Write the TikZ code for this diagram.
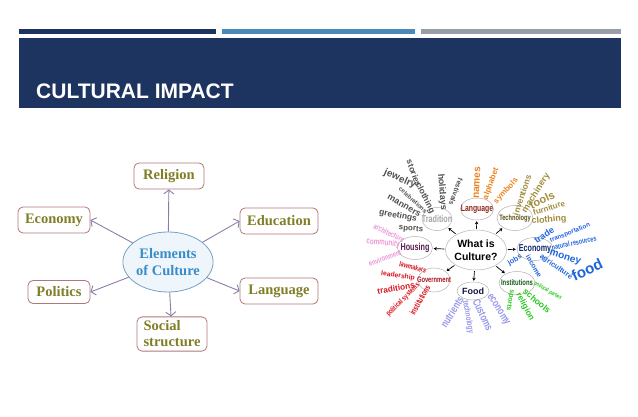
\documentclass[tikz,border=0pt]{standalone}
\usepackage{fontspec}
\setmainfont{Liberation Serif}
\newfontfamily\titlefont{Liberation Sans}
\newfontfamily\wordfont{Liberation Sans}
\newfontfamily\narrowfont[FakeStretch=0.72]{Liberation Sans}
\usetikzlibrary{shapes.geometric,arrows.meta}

\definecolor{navy}{RGB}{30,52,96}
\definecolor{barblue}{RGB}{74,138,184}
\definecolor{bargray}{RGB}{152,158,166}
\definecolor{olivetext}{RGB}{128,126,38}
\definecolor{roseline}{RGB}{176,120,120}
\definecolor{elemblue}{RGB}{58,140,200}
\definecolor{elemline}{RGB}{120,160,195}
\definecolor{elemfill}{RGB}{238,246,252}
\definecolor{lilac}{RGB}{140,124,170}
\definecolor{tradc}{RGB}{80,80,80}
\definecolor{langc}{RGB}{235,130,30}
\definecolor{techc}{RGB}{160,140,60}
\definecolor{econc}{RGB}{30,100,220}
\definecolor{instc}{RGB}{40,200,30}
\definecolor{foodc}{RGB}{150,150,235}
\definecolor{govc}{RGB}{215,20,30}
\definecolor{housc}{RGB}{235,150,215}

\tikzset{
  elembox/.style={draw=roseline, rounded corners=5pt, fill=white, line width=0.8pt,
    font=\fontsize{14.5}{16}\selectfont\bfseries, text=olivetext,
    minimum height=26pt, inner xsep=4pt},
  elemarrow/.style={draw=lilac, line width=0.9pt, -{Straight Barb[length=4pt,width=10pt]}},
  ring/.style={ellipse, draw=gray!60, fill=white, line width=0.5pt, inner sep=0pt},
  ringarrow/.style={-{Stealth[length=3pt,width=3.5pt]}, line width=0.7pt, shorten <=1pt, shorten >=1pt},
  word/.style={inner sep=0pt, font=\wordfont\bfseries\fontsize{#1}{#1}\selectfont},
  nword/.style={inner sep=0pt, font=\narrowfont\bfseries\fontsize{#1}{#1}\selectfont},
}

\begin{document}
\begin{tikzpicture}[x=1pt,y=-1pt]
\useasboundingbox (0,0) rectangle (638,417);
\fill[navy] (19,29) rectangle (216,34);
\fill[barblue] (222,29) rectangle (415,34);
\fill[bargray] (421,29) rectangle (621,34);
\fill[navy] (19,38) rectangle (621,108);
\node[anchor=base west, inner sep=0pt, text=white, font=\titlefont\bfseries\fontsize{21}{21}\selectfont] (title) at (36,99) {CULTURAL IMPACT};

\node[ellipse, draw=elemline, fill=elemfill, line width=0.8pt, minimum width=83pt, minimum height=60pt,
  inner sep=0pt, align=center, text=elemblue, font=\fontsize{14.5}{17}\selectfont\bfseries] (elem) at (168,262) {Elements\\of Culture};
\node[elembox, minimum width=70pt] (rel) at (169,176) {Religion};
\node[elembox, minimum width=72pt] (eco) at (54,220) {Economy};
\node[elembox, minimum width=78pt] (edu) at (279,221) {Education};
\node[elembox, minimum width=62pt, minimum height=23pt] (pol) at (59,292) {Politics};
\node[elembox, minimum width=78pt] (lan) at (279,291) {Language};
\node[elembox, minimum width=70pt, align=left, inner ysep=4pt] (soc) at (172,334) {Social\\structure};

\draw[elemarrow] (elem) -- (rel);
\draw[elemarrow] (elem) -- (eco.east);
\draw[elemarrow] (elem) -- (edu.west);
\draw[elemarrow] (elem) -- (pol.east);
\draw[elemarrow] (elem) -- (lan.west);
\draw[elemarrow] (elem) -- (soc);

\node[ring, minimum width=61pt, minimum height=40pt, align=center, font=\wordfont\bfseries\fontsize{10.5}{13}\selectfont] (what) at (476,250) {What is\\Culture?};
\node[ring, minimum width=33pt, minimum height=22pt, label={[nword=9.5, text={rgb,255:red,140;green,40;blue,30}]center:Language}] (wlan) at (477,209) {};
\node[ring, minimum width=36pt, minimum height=25pt, label={[nword=7.9, text={rgb,255:red,90;green,80;blue,20}]center:Technology}] (wtec) at (515,218) {};
\node[ring, minimum width=36pt, minimum height=23pt, label={[nword=10, text={rgb,255:red,20;green,40;blue,110}]center:Economy}] (weco) at (535,249) {};
\node[ring, minimum width=36pt, minimum height=23pt, label={[nword=8.2, text={rgb,255:red,20;green,90;blue,20}]center:Institutions}] (wins) at (517,283) {};
\node[ring, minimum width=32pt, minimum height=18pt, label={[word=9, text={rgb,255:red,20;green,20;blue,70}]center:Food}] (wfoo) at (473,291) {};
\node[ring, minimum width=32pt, minimum height=24pt, label={[nword=8, text={rgb,255:red,170;green,20;blue,30}]center:Government}] (wgov) at (434,280) {};
\node[ring, minimum width=35pt, minimum height=23pt, label={[nword=10, text={rgb,255:red,90;green,30;blue,80}]center:Housing}] (whou) at (415,248) {};
\node[ring, minimum width=30pt, minimum height=23pt, label={[nword=10, text=gray!70]center:Tradition}] (wtra) at (437,219) {};

\draw[ringarrow] (what) -- (wlan);
\draw[ringarrow] (what) -- (wtec);
\draw[ringarrow] (what) -- (weco);
\draw[ringarrow] (what) -- (wins);
\draw[ringarrow] (what) -- (wfoo);
\draw[ringarrow] (what) -- (wgov);
\draw[ringarrow] (what) -- (whou);
\draw[ringarrow] (what) -- (wtra);

\node[word=10, text=tradc, rotate=-24] (t1) at (400,179) {jewelry};
\node[word=8.5, text=tradc, rotate=-70] (t2) at (414,173) {stories};
\node[word=8.5, text=tradc, rotate=-63] (t3) at (425,198) {clothing};
\node[word=6, text=tradc, rotate=-42] (t4) at (413,200) {celebrations};
\node[word=8.9, text=tradc, rotate=-30] (t5) at (404,206) {manners};
\node[word=8.5, text=tradc, rotate=-11] (t6) at (398,216) {greetings};
\node[word=8, text=tradc, rotate=-5] (t7) at (411,229) {sports};
\node[word=9, text=tradc, rotate=-85] (t8) at (442,192) {holidays};
\node[word=7, text=tradc, rotate=-110] (t9) at (456,192) {festivals};

\node[word=10, text=langc, rotate=87] (l1) at (477,183) {names};
\node[word=8, text=langc, rotate=70] (l2) at (491,184) {alphabet};
\node[word=7.9, text=langc, rotate=47] (l3) at (506,191) {symbols};

\node[word=8.5, text=techc, rotate=72] (k1) at (522,195) {inventions};
\node[word=9, text=techc, rotate=58] (k2) at (536,193) {machinery};
\node[word=11, text=techc, rotate=25] (k3) at (542,200) {tools};
\node[word=8, text=techc, rotate=18] (k4) at (549,208) {furniture};
\node[word=9, text=techc, rotate=5] (k5) at (549,220) {clothing};

\node[word=9, text=econc, rotate=35] (e1) at (544,235) {trade};
\node[word=6.3, text=econc, rotate=22] (e2) at (570,233) {transportation};
\node[nword=7.5, text=econc, rotate=12] (e3) at (574,243) {natural resources};
\node[word=10, text=econc, rotate=-18] (e4) at (565,258) {money};
\node[word=7.4, text=econc, rotate=-35] (e5) at (556,267) {agriculture};
\node[word=15, text=econc, rotate=25] (e6) at (587,270) {food};
\node[word=7.3, text=econc, rotate=30] (e7) at (515,260) {jobs};
\node[word=7, text=econc, rotate=-60] (e8) at (534,266) {income};

\node[nword=5.8, text=instc, rotate=-30] (i1) at (548,291) {political parties};
\node[word=8.7, text=instc, rotate=-40] (i2) at (537,301) {schools};
\node[word=8.3, text=instc, rotate=-62] (i3) at (525,307) {religion};
\node[word=7, text=instc, rotate=-100] (i4) at (510,300) {sports};

\node[nword=11, text=foodc, rotate=58] (f1) at (452,312) {nutrients};
\node[nword=8.6, text=foodc, rotate=-80] (f2) at (468,317) {technology};
\node[nword=11, text=foodc, rotate=-65] (f3) at (483,315) {Customs};
\node[nword=11, text=foodc, rotate=-58] (f4) at (498,310) {economy};

\node[nword=7.5, text=govc, rotate=-15] (g1) at (413,267) {lawmakers};
\node[word=6.8, text=govc, rotate=-8] (g2) at (398,276) {leadership};
\node[word=8.3, text=govc, rotate=10] (g3) at (396,288) {traditions};
\node[nword=7.6, text=govc, rotate=45] (g4) at (403,300) {political systems};
\node[nword=8.5, text=govc, rotate=60] (g5) at (420,300) {institutions};

\node[nword=8, text=housc, rotate=-25] (h1) at (389,233) {architecture};
\node[nword=8.6, text=housc, rotate=-5] (h2) at (383,243) {community};
\node[nword=7.9, text=housc, rotate=20] (h3) at (385,258) {environment};
\end{tikzpicture}
\end{document}
